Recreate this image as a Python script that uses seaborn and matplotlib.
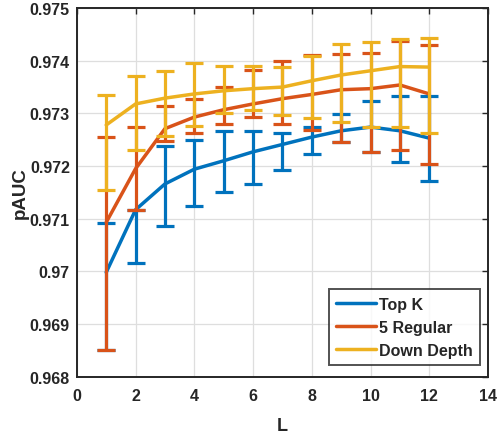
import numpy as np
import pandas as pd
import matplotlib
matplotlib.use("Agg")
import matplotlib.pyplot as plt
import seaborn as sns
from matplotlib.ticker import FuncFormatter

L = [1, 2, 3, 4, 5, 6, 7, 8, 9, 10, 11, 12]

topk_mean = [0.96998, 0.97117, 0.97166, 0.97194, 0.97210, 0.97227, 0.97241, 0.97255, 0.97267, 0.97274, 0.97267, 0.97253]
topk_low = [0.96851, 0.97015, 0.97086, 0.97125, 0.97151, 0.97165, 0.97193, 0.97223, 0.97245, 0.97226, 0.97207, 0.97172]
topk_high = [0.97091, 0.97117, 0.97239, 0.97250, 0.97266, 0.97266, 0.97262, 0.97275, 0.97298, 0.97324, 0.97334, 0.97334]

reg_mean = [0.97093, 0.97195, 0.97271, 0.97293, 0.97307, 0.97318, 0.97328, 0.97336, 0.97345, 0.97347, 0.97354, 0.97337]
reg_low = [0.96851, 0.97117, 0.97248, 0.97263, 0.97280, 0.97293, 0.97280, 0.97269, 0.97245, 0.97226, 0.97231, 0.97204]
reg_high = [0.97255, 0.97275, 0.97315, 0.97328, 0.97350, 0.97383, 0.97399, 0.97411, 0.97413, 0.97414, 0.97438, 0.97430]

dd_mean = [0.97278, 0.97318, 0.97329, 0.97337, 0.97343, 0.97347, 0.97350, 0.97362, 0.97373, 0.97381, 0.97389, 0.97388]
dd_low = [0.97155, 0.97231, 0.97257, 0.97277, 0.97300, 0.97307, 0.97297, 0.97291, 0.97283, 0.97275, 0.97275, 0.97263]
dd_high = [0.97335, 0.97372, 0.97381, 0.97395, 0.97391, 0.97390, 0.97388, 0.97410, 0.97432, 0.97435, 0.97442, 0.97444]

series_names = ["Top K", "5 Regular", "Down Depth"]
colors = ["#0072BD", "#D95319", "#EDB120"]

sns.set_theme(style="white")
plt.rcParams['font.family'] = ['Liberation Sans', 'DejaVu Sans']
plt.rcParams['font.weight'] = 'bold'

fig = plt.figure(figsize=(4.99, 4.35), dpi=100)
ax = fig.add_axes([0.154, 0.132, 0.824, 0.847])

data = [(topk_mean, topk_low, topk_high), (reg_mean, reg_low, reg_high), (dd_mean, dd_low, dd_high)]
rows = []
for name, (m, lo, hi) in zip(series_names, data):
    for x, v in zip(L, m):
        rows.append({"L": x, "pAUC": v, "series": name})
df = pd.DataFrame(rows)

for i, (name, (m, lo, hi)) in enumerate(zip(series_names, data)):
    m = np.array(m); lo = np.array(lo); hi = np.array(hi)
    ax.errorbar(L, m, yerr=[m - lo, hi - m], fmt='none', ecolor=colors[i],
                elinewidth=2.3, capsize=6.5, capthick=2.3, zorder=3 + 2 * i)
    sns.lineplot(data=df[df.series == name], x="L", y="pAUC", color=colors[i],
                 linewidth=2.5, ax=ax, label=name, zorder=4 + 2 * i, errorbar=None)

ax.set_xlim(0, 14)
ax.set_ylim(0.968, 0.975)
ax.set_xticks(np.arange(0, 15, 2))
ax.set_yticks(np.arange(0.968, 0.9751, 0.001))
ax.yaxis.set_major_formatter(FuncFormatter(lambda v, p: f"{v:g}"))
ax.grid(True, color="#dedede", linewidth=0.9)
ax.set_axisbelow(True)
for s in ax.spines.values():
    s.set_visible(True)
    s.set_color("#262626")
    s.set_linewidth(1.4)
ax.tick_params(direction='in', length=4, width=1, colors="#262626", top=True, right=True,
               labelsize=11.5)
ax.tick_params(axis='y', pad=5)
ax.tick_params(axis='x', pad=8)
for lab in ax.get_xticklabels() + ax.get_yticklabels():
    lab.set_fontweight('bold')
ax.set_xlabel("L", fontsize=13, fontweight='bold', color="#262626", labelpad=10)
ax.set_ylabel("pAUC", fontsize=13.5, fontweight='bold', color="#262626", labelpad=1)

leg = ax.legend(loc='lower right', frameon=True, fancybox=False, edgecolor="#262626",
                fontsize=11.5, handlelength=2.5, handletextpad=0.2, borderpad=0.45,
                labelspacing=0.5, borderaxespad=0, bbox_to_anchor=(0.98, 0.032))
leg.get_frame().set_linewidth(1.4)
for t in leg.get_texts():
    t.set_fontweight('bold')
for h in leg.get_lines():
    h.set_linewidth(2.5)

fig.savefig("out.png", dpi=100, facecolor="white")
